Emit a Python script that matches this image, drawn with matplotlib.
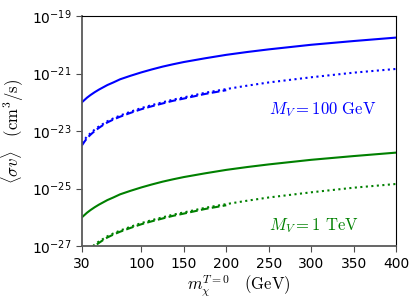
import numpy as np
import matplotlib
matplotlib.use('Agg')
import matplotlib.pyplot as plt
from matplotlib.ticker import NullLocator

plt.rcParams['mathtext.fontset'] = 'cm'

# dark matter mass (GeV)
m_full = [30, 33, 36, 40, 45, 50, 55, 60, 67, 75, 87, 100, 112, 125, 137, 150,
          175, 200, 225, 250, 275, 300, 350, 400]
m_dash = m_full[:18]

# log10 <sigma v> for M_V = 100 GeV
solid_100 = [-22.00, -21.92, -21.84, -21.75, -21.65, -21.56, -21.48, -21.40,
             -21.31, -21.20, -21.08, -20.96, -20.86, -20.76, -20.68, -20.60,
             -20.47, -20.35, -20.25, -20.16, -20.08, -20.00, -19.87, -19.75]
dotted_100 = [-23.42, -23.30, -23.19, -23.08, -22.95, -22.84, -22.75, -22.66,
              -22.56, -22.46, -22.33, -22.20, -22.10, -22.00, -21.91, -21.83,
              -21.67, -21.54, -21.42, -21.31, -21.22, -21.13, -20.97, -20.84]
dashed_100 = [-23.50, -23.37, -23.25, -23.13, -23.00, -22.89, -22.79, -22.70,
              -22.60, -22.50, -22.37, -22.24, -22.14, -22.04, -21.95, -21.87,
              -21.71, -21.58]

# M_V = 1 TeV curves sit four decades lower
solid_1000 = [v - 4 for v in solid_100]
dotted_1000 = [v - 4 for v in dotted_100]
dashed_1000 = [v - 4 for v in dashed_100]

fig = plt.figure(figsize=(4.2, 3.08), dpi=100)
ax = fig.add_axes([0.195, 0.201, 0.748, 0.747])

ax.plot(m_full, 10 ** np.array(solid_100), color='b', lw=1.5)
ax.plot(m_dash, 10 ** np.array(dashed_100), color='b', lw=1.5, ls='--')
ax.plot(m_full, 10 ** np.array(dotted_100), color='b', lw=1.5, ls=':')

ax.plot(m_full, 10 ** np.array(solid_1000), color='g', lw=1.5)
ax.plot(m_dash, 10 ** np.array(dashed_1000), color='g', lw=1.5, ls='--')
ax.plot(m_full, 10 ** np.array(dotted_1000), color='g', lw=1.5, ls=':')

ax.text(250, 10 ** -22.27, r'$M_V = 100\ \mathrm{GeV}$', color='b', fontsize=12,
        va='center', ha='left')
ax.text(250, 10 ** -26.27, r'$M_V = 1\ \mathrm{TeV}$', color='g', fontsize=12,
        va='center', ha='left')

ax.set_yscale('log')
ax.set_xlim(30, 400)
ax.set_ylim(1e-27, 1e-19)
ax.set_xticks([30, 100, 150, 200, 250, 300, 350, 400])
ax.set_yticks([1e-27, 1e-25, 1e-23, 1e-21, 1e-19])
ax.yaxis.set_minor_locator(NullLocator())
ax.tick_params(labelsize=10, direction='out', length=4, color='0.3')
ax.tick_params(top=False, right=False)

for s in ['left', 'bottom']:
    ax.spines[s].set_color('0.35')
    ax.spines[s].set_linewidth(1.3)
for s in ['top', 'right']:
    ax.spines[s].set_color('k')
    ax.spines[s].set_linewidth(0.8)

ax.set_xlabel(r'$m_\chi^{T=0}\quad (\mathrm{GeV})$', fontsize=12, labelpad=2)
ax.set_ylabel(r'$\langle \sigma v \rangle\quad (\mathrm{cm}^3/\mathrm{s})$', fontsize=12,
              labelpad=4)

fig.savefig('out.png', dpi=100)
